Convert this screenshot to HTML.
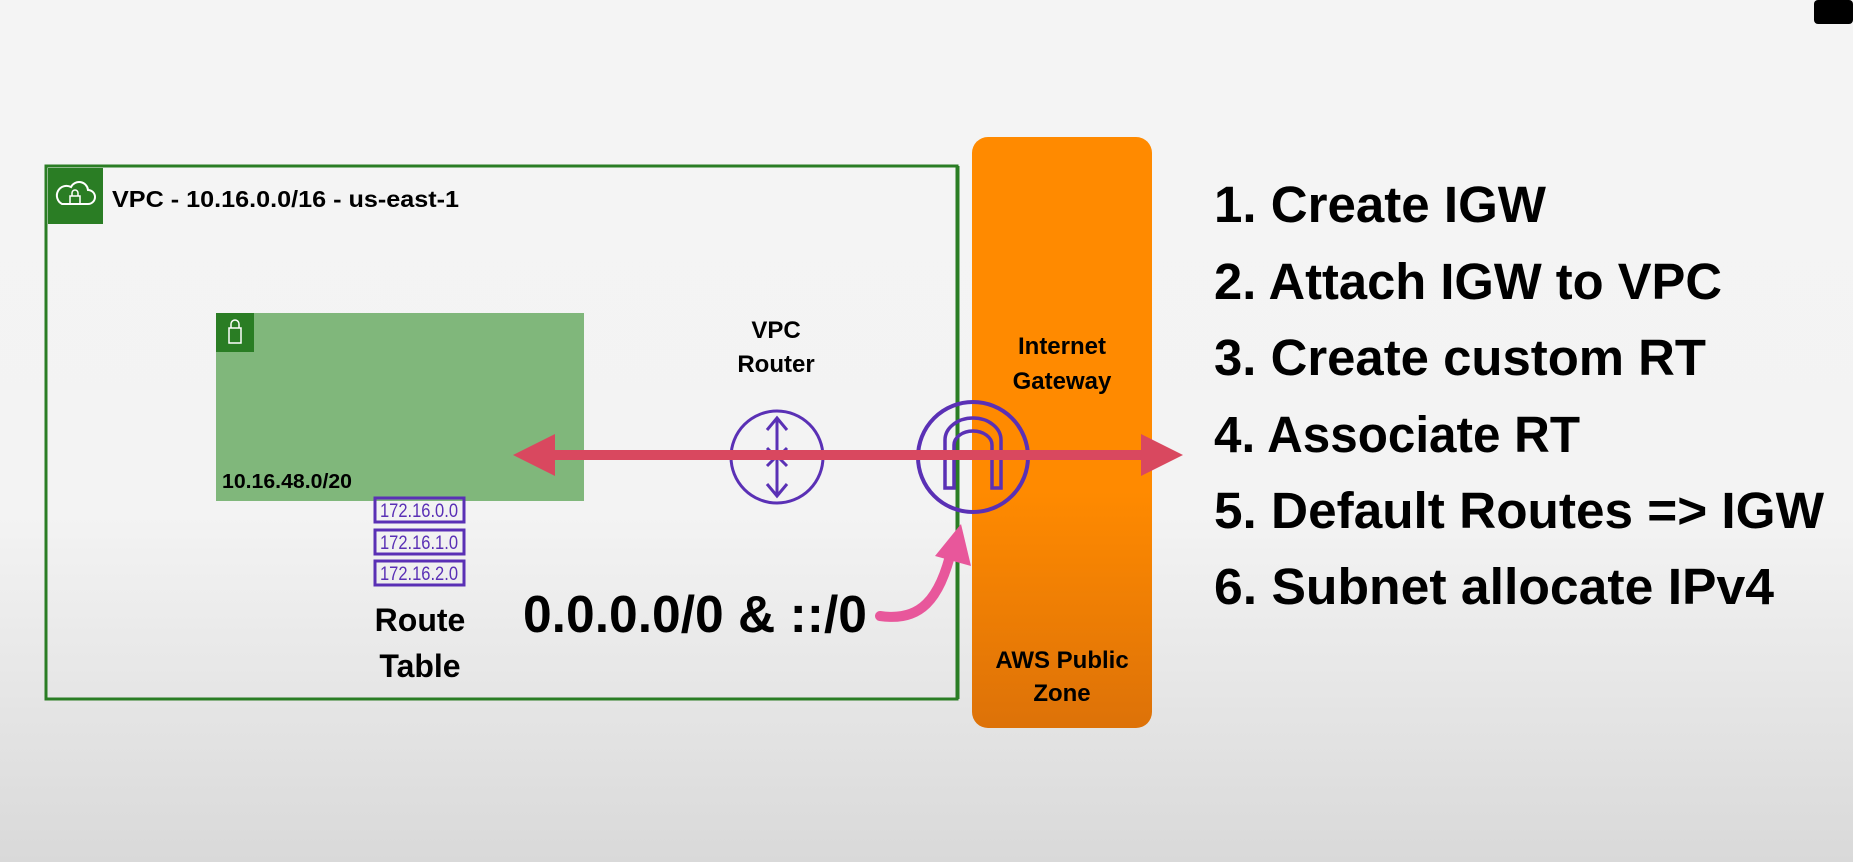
<!DOCTYPE html>
<html><head><meta charset="utf-8"><style>
html,body{margin:0;padding:0;width:1853px;height:862px;overflow:hidden}
body{background:linear-gradient(#f4f4f4 0%,#f3f3f3 60%,#d9d9d9 100%);}
svg{position:absolute;left:0;top:0}
text{font-family:"Liberation Sans",sans-serif;font-weight:bold;fill:#000}
text.rt{fill:#5a30b5;font-weight:normal}
</style></head><body>
<svg width="1853" height="862" viewBox="0 0 1853 862" xmlns="http://www.w3.org/2000/svg">
<defs>
<linearGradient id="og" x1="0" y1="0" x2="0" y2="1">
<stop offset="0" stop-color="#ff8a00"/><stop offset="0.6" stop-color="#ff8a00"/><stop offset="1" stop-color="#dd7208"/>
</linearGradient>
</defs>
<rect x="1814" y="0" width="39" height="24" rx="4" fill="#000"/>
<rect x="46" y="166" width="911" height="533" fill="none" stroke="#2a7d24" stroke-width="3"/>
<rect x="48" y="168" width="55" height="56" fill="#2a7d24"/>
<path d="M62 204 h26 a7 7 0 0 0 0-14 a9 9 0 0 0-17-3 a7 7 0 0 0-9 17z" fill="none" stroke="#fff" stroke-width="2"/>
<rect x="70" y="196" width="10" height="8" fill="none" stroke="#fff" stroke-width="1.5"/>
<path d="M72 196 v-3 a3 3 0 0 1 6 0 v3" fill="none" stroke="#fff" stroke-width="1.5"/>
<text x="112" y="207" font-size="23" textLength="347" lengthAdjust="spacingAndGlyphs">VPC - 10.16.0.0/16 - us-east-1</text>
<rect x="216" y="313" width="368" height="188" fill="#80b77b"/>
<rect x="216" y="313" width="38" height="39" fill="#2a7d24"/>
<rect x="229" y="328" width="12" height="15" fill="none" stroke="#fff" stroke-width="1.5"/>
<path d="M231 328 v-4 a4 4 0 0 1 8 0 v4" fill="none" stroke="#fff" stroke-width="1.5"/>
<text x="222" y="488" font-size="20" textLength="130" lengthAdjust="spacingAndGlyphs">10.16.48.0/20</text>
<g fill="none" stroke="#5a30b5" stroke-width="3">
<rect x="375" y="498" width="89" height="24"/>
<rect x="375" y="530" width="89" height="24"/>
<rect x="375" y="561" width="89" height="24"/>
</g>
<text class="rt" x="419" y="517" font-size="19" text-anchor="middle" textLength="78" lengthAdjust="spacingAndGlyphs">172.16.0.0</text>
<text class="rt" x="419" y="549" font-size="19" text-anchor="middle" textLength="78" lengthAdjust="spacingAndGlyphs">172.16.1.0</text>
<text class="rt" x="419" y="580" font-size="19" text-anchor="middle" textLength="78" lengthAdjust="spacingAndGlyphs">172.16.2.0</text>
<text x="420" y="631" font-size="32" text-anchor="middle">Route</text>
<text x="420" y="677" font-size="32" text-anchor="middle">Table</text>
<text x="523" y="632" font-size="52" textLength="344" lengthAdjust="spacingAndGlyphs">0.0.0.0/0 &amp; ::/0</text>
<text x="776" y="338" font-size="24" text-anchor="middle">VPC</text>
<text x="776" y="372" font-size="24" text-anchor="middle">Router</text>
<circle cx="777" cy="457" r="46" fill="none" stroke="#5a30b5" stroke-width="3"/>
<g fill="none" stroke="#5a30b5" stroke-width="3">
<line x1="777" y1="420" x2="777" y2="494"/>
<polyline points="767,430 777,418 787,430"/>
<polyline points="767,484 777,496 787,484"/>
<polyline points="767,448 777,458 787,448"/>
<polyline points="767,466 777,456 787,466"/>
</g>
<rect x="972" y="137" width="180" height="591" rx="16" fill="url(#og)"/>
<text x="1062" y="354" font-size="24" text-anchor="middle">Internet</text>
<text x="1062" y="389" font-size="24" text-anchor="middle">Gateway</text>
<text x="1062" y="668" font-size="24" text-anchor="middle">AWS Public</text>
<text x="1062" y="701" font-size="24" text-anchor="middle">Zone</text>
<line x1="958" y1="166" x2="958" y2="699" stroke="#2a7d24" stroke-width="3"/>
<circle cx="973" cy="457" r="55" fill="none" stroke="#5a30b5" stroke-width="4"/>
<path d="M945 488 V440 a28 22 0 0 1 56 0 V488 h-9 V445 a19 14 0 0 0 -38 0 V488 z" fill="none" stroke="#5a30b5" stroke-width="3.5"/>
<line x1="550" y1="455" x2="1145" y2="455" stroke="#d9485f" stroke-width="10"/>
<polygon points="513,455 555,434 555,476" fill="#d9485f"/>
<polygon points="1183,455 1141,434 1141,476" fill="#d9485f"/>
<path d="M880 616 C920 622 940 600 952 548" fill="none" stroke="#e8579b" stroke-width="10" stroke-linecap="round"/>
<polygon points="961,524 935,556 971,566" fill="#e8579b"/>
<g font-size="51">
<text x="1214" y="222" textLength="332" lengthAdjust="spacingAndGlyphs">1. Create IGW</text>
<text x="1214" y="299" textLength="508" lengthAdjust="spacingAndGlyphs">2. Attach IGW to VPC</text>
<text x="1214" y="375" textLength="492" lengthAdjust="spacingAndGlyphs">3. Create custom RT</text>
<text x="1214" y="452" textLength="366" lengthAdjust="spacingAndGlyphs">4. Associate RT</text>
<text x="1214" y="528" textLength="610" lengthAdjust="spacingAndGlyphs">5. Default Routes =&gt; IGW</text>
<text x="1214" y="604" textLength="560" lengthAdjust="spacingAndGlyphs">6. Subnet allocate IPv4</text>
</g>
</svg>
</body></html>
